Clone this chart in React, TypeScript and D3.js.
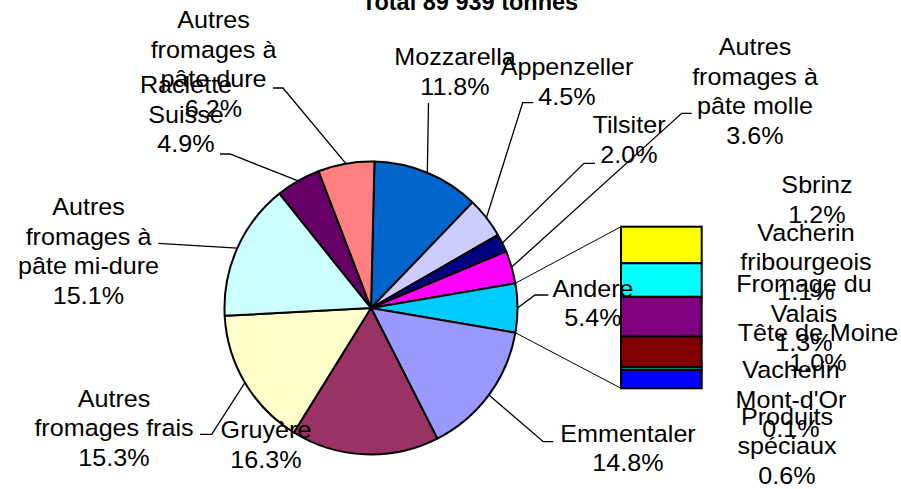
import React from "react";
import * as d3 from "d3";

const W = 901;
const H = 489;

const title = "Total 89 939 tonnes";

const sliceNames = [
  "Mozzarella",
  "Appenzeller",
  "Tilsiter",
  "Autres fromages à pâte molle",
  "Andere",
  "Emmentaler",
  "Gruyère",
  "Autres fromages frais",
  "Autres fromages à pâte mi-dure",
  "Raclette Suisse",
  "Autres fromages à pâte dure",
];
const sliceValues = [11.8, 4.5, 2.0, 3.6, 5.4, 14.8, 16.3, 15.3, 15.1, 4.9, 6.2];
const sliceColors = [
  "#0066CC", "#CCCCFF", "#000080", "#FF00FF", "#00CCFF", "#9999FF",
  "#993366", "#FFFFCC", "#CCFFFF", "#660066", "#FF8080",
];
const sliceLabelLines = [
  ["Mozzarella"],
  ["Appenzeller"],
  ["Tilsiter"],
  ["Autres", "fromages à", "pâte molle"],
  ["Andere"],
  ["Emmentaler"],
  ["Gruyère"],
  ["Autres", "fromages frais"],
  ["Autres", "fromages à", "pâte mi-dure"],
  ["Raclette", "Suisse"],
  ["Autres", "fromages à", "pâte dure"],
];
const otherIndex = 4;

const barNames = [
  "Sbrinz",
  "Vacherin fribourgeois",
  "Fromage du Valais",
  "Tête de Moine",
  "Vacherin Mont-d'Or",
  "Produits spéciaux",
];
const barValues = [1.2, 1.1, 1.3, 1.0, 0.1, 0.6];
const barColors = ["#FFFF00", "#00FFFF", "#800080", "#800000", "#008080", "#0000FF"];
const barLabelLines = [
  ["Sbrinz"],
  ["Vacherin", "fribourgeois"],
  ["Fromage du", "Valais"],
  ["Tête de Moine"],
  ["Vacherin", "Mont-d'Or"],
  ["Produits", "spéciaux"],
];

// layout (label centres and leader elbows)
const sliceLabelLayout = [
  { cx: 455, cy: 57, elbow: [[428.5, 103]] },
  { cx: 567, cy: 67, elbow: [[522.7, 102.7], [533.3, 102.7]] },
  { cx: 629, cy: 125, elbow: [[584, 163.3], [595, 163.3]] },
  { cx: 755, cy: 47, elbow: [[681.7, 113.3], [691.7, 113.3]] },
  { cx: 593, cy: 288.5, elbow: [[535, 295], [548.3, 295]] },
  { cx: 628, cy: 433.5, elbow: [[543.3, 441.7], [553.3, 441.7]] },
  { cx: 266, cy: 430, elbow: [] },
  { cx: 114, cy: 398.5, elbow: [[211.7, 434.3], [200, 434.3]] },
  { cx: 88.5, cy: 207, elbow: [[158.3, 243.3]] },
  { cx: 186, cy: 85, elbow: [[230, 154], [220, 154]] },
  { cx: 213.5, cy: 20, elbow: [[283, 88], [273, 88]] },
];
const barLabelLayout = [
  { cx: 817, cy: 185 },
  { cx: 806, cy: 232.5 },
  { cx: 804, cy: 284 },
  { cx: 818, cy: 333 },
  { cx: 791, cy: 370 },
  { cx: 787, cy: 416.7 },
];

const FONT = "'Liberation Sans', Arial, Helvetica, sans-serif";
const FS = 23.5;
const SX = 1.07;
const LH = 29.5;

const cx0 = 371;
const cy0 = 308;
const R = 146.5;

const barX0 = 621;
const barX1 = 701.7;
const barY0 = 226.7;
const barY1 = 388.3;

const fmt = (v: number) => v.toFixed(1) + "%";

function Label({ x, y, lines }: { x: number; y: number; lines: string[] }) {
  return (
    <g transform={`translate(${x},${y}) scale(${SX},1)`}>
      {lines.map((l, i) => (
        <text
          key={i}
          x={0}
          y={i * LH}
          textAnchor="middle"
          dominantBaseline="central"
          fontFamily={FONT}
          fontSize={FS}
          fill="#000"
        >
          {l}
        </text>
      ))}
    </g>
  );
}

export default function App() {
  const total = d3.sum(sliceValues);
  const before = d3.sum(sliceValues.slice(0, otherIndex));
  const startAngle =
    Math.PI / 2 - ((before + sliceValues[otherIndex] / 2) / total) * 2 * Math.PI;

  const pie = d3
    .pie<number>()
    .sort(null)
    .value((d) => d)
    .startAngle(startAngle)
    .endAngle(startAngle + 2 * Math.PI);
  const arcs = pie(sliceValues);
  const arcGen = d3.arc<d3.PieArcDatum<number>>().innerRadius(0).outerRadius(R);

  const pt = (a: number, r: number): [number, number] => [
    cx0 + r * Math.sin(a),
    cy0 - r * Math.cos(a),
  ];

  const barTotal = d3.sum(barValues);
  const yScale = d3.scaleLinear().domain([0, barTotal]).range([barY0, barY1]);
  const barCum = d3.cumsum(barValues);

  const other = arcs[otherIndex];
  const topPt = pt(other.startAngle, R);
  const botPt = pt(other.endAngle, R);

  const line = d3.line();

  return (
    <svg
      width={W}
      height={H}
      style={{ position: "absolute", left: 0, top: 0, display: "block", background: "#fff" }}
    >
      <rect x={0} y={0} width={W} height={H} fill="#fff" />
      <text
        x={470}
        y={10}
        textAnchor="middle"
        fontFamily={FONT}
        fontWeight="bold"
        fontSize={23.5}
      >
        {title}
      </text>

      {/* pie */}
      <g transform={`translate(${cx0},${cy0})`}>
        {arcs.map((a, i) => (
          <path
            key={sliceNames[i]}
            d={arcGen(a) || ""}
            fill={sliceColors[i]}
            stroke="#000"
            strokeWidth={2}
            strokeLinejoin="round"
          />
        ))}
      </g>

      {/* connectors to bar */}
      <path d={line([topPt, [barX0, barY0]]) || ""} stroke="#000" strokeWidth={1} fill="none" />
      <path d={line([botPt, [barX0, barY1]]) || ""} stroke="#000" strokeWidth={1} fill="none" />

      {/* bar */}
      {barValues.map((v, i) => {
        const y0 = yScale(barCum[i] - v);
        const y1 = yScale(barCum[i]);
        return (
          <rect
            key={barNames[i]}
            x={barX0}
            y={y0}
            width={barX1 - barX0}
            height={y1 - y0}
            fill={barColors[i]}
            stroke="#000"
            strokeWidth={2}
          />
        );
      })}

      {/* leader lines */}
      {arcs.map((a, i) => {
        const lay = sliceLabelLayout[i];
        if (!lay.elbow.length) return null;
        const mid = (a.startAngle + a.endAngle) / 2;
        const p0 = pt(mid, R);
        const pts = [p0, ...(lay.elbow as [number, number][])];
        return (
          <path
            key={"l" + i}
            d={line(pts as [number, number][]) || ""}
            stroke="#000"
            strokeWidth={1.3}
            fill="none"
          />
        );
      })}

      {/* slice labels */}
      {sliceValues.map((v, i) => (
        <Label
          key={"sl" + i}
          x={sliceLabelLayout[i].cx}
          y={sliceLabelLayout[i].cy}
          lines={[...sliceLabelLines[i], fmt(v)]}
        />
      ))}

      {/* bar labels */}
      {barValues.map((v, i) => (
        <Label
          key={"bl" + i}
          x={barLabelLayout[i].cx}
          y={barLabelLayout[i].cy}
          lines={[...barLabelLines[i], fmt(v)]}
        />
      ))}
    </svg>
  );
}
